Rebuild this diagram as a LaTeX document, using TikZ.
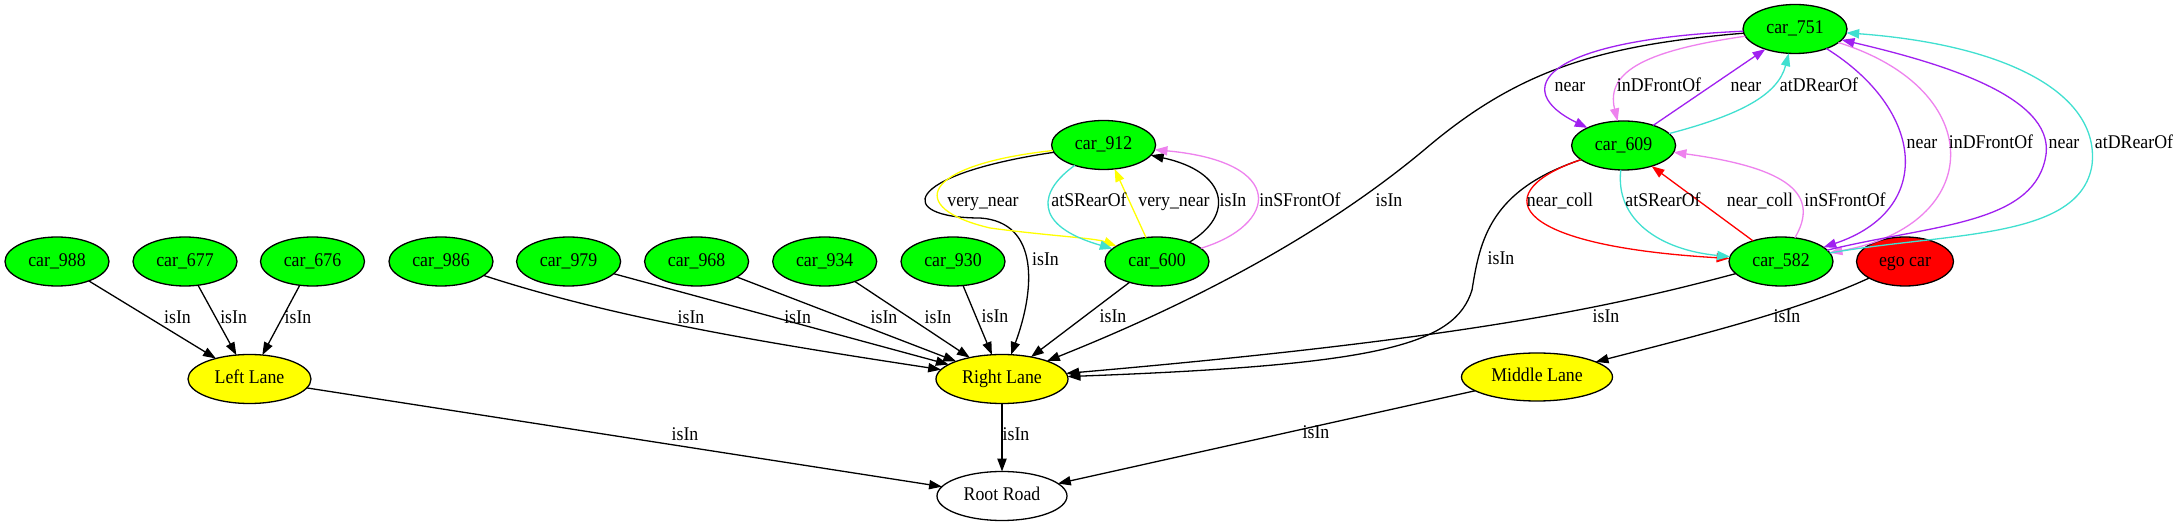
\documentclass[tikz,border=0pt]{standalone}
\usepackage{graphicx}
\usepackage{fontspec}
\setmainfont{Liberation Serif}
\usetikzlibrary{shapes.geometric,arrows.meta}
\definecolor{gvgreen}{RGB}{0,255,0}
\definecolor{gvyellow}{RGB}{255,255,0}
\definecolor{gvred}{RGB}{255,0,0}
\definecolor{gvpurple}{RGB}{160,32,240}
\definecolor{gvviolet}{RGB}{238,130,238}
\definecolor{gvturq}{RGB}{64,224,208}
\newcommand{\gvtx}[1]{\scalebox{1}[1.09]{#1}}
\begin{document}
\begin{tikzpicture}[x=0.5pt,y=-0.5pt,
  font=\fontsize{8.9pt}{10pt}\selectfont,
  nd/.style={ellipse,draw=black,line width=0.65pt,inner sep=0pt,outer sep=0pt,minimum height=24.5pt,text height=6.8pt,text depth=2pt},
  carnode/.style={nd,fill=gvgreen,minimum width=52pt},
  lane/.style={nd,fill=gvyellow},
  lbl/.style={inner sep=0pt,text height=6.8pt,text depth=2pt},
  conn/.style={line width=0.65pt,-{Triangle[length=6.4pt,width=4.6pt]}}]
\fill[white] (0,0) rectangle (2180,523);
\useasboundingbox (0,0) rectangle (2180,523);
% nodes
\node[carnode] (c988) at (57,261.5) {\gvtx{car\_988}};
\node[carnode] (c677) at (185,261.5) {\gvtx{car\_677}};
\node[carnode] (c676) at (312.5,261.5) {\gvtx{car\_676}};
\node[carnode] (c986) at (441,261.5) {\gvtx{car\_986}};
\node[carnode] (c979) at (568.6,261.5) {\gvtx{car\_979}};
\node[carnode] (c968) at (696.6,261.5) {\gvtx{car\_968}};
\node[carnode] (c934) at (824.7,261.5) {\gvtx{car\_934}};
\node[carnode] (c930) at (953,261.5) {\gvtx{car\_930}};
\node[carnode] (c912) at (1103.6,145) {\gvtx{car\_912}};
\node[carnode] (c600) at (1157,261.5) {\gvtx{car\_600}};
\node[carnode] (c751) at (1795,29) {\gvtx{car\_751}};
\node[carnode] (c609) at (1623.6,145.5) {\gvtx{car\_609}};
\node[carnode] (c582) at (1781,261.5) {\gvtx{car\_582}};
\node[nd,fill=gvred,minimum width=48.5pt] (ego) at (1905,261.5) {\gvtx{ego car}};
\node[lane,minimum width=61.5pt] (LL) at (249.5,379) {\gvtx{Left Lane}};
\node[lane,minimum width=66pt] (RL) at (1002,379) {\gvtx{Right Lane}};
\node[lane,minimum width=75.5pt,minimum height=24pt] (ML) at (1537,377) {\gvtx{Middle Lane}};
\node[nd,fill=white,minimum width=65pt] (RR) at (1002,496) {\gvtx{Root Road}};
% black isIn edges
\draw[conn] (c988) -- (LL);
\draw[conn] (c677) -- (LL);
\draw[conn] (c676) -- (LL);
\draw[conn] (c986) .. controls (620,320) and (780,345) .. (RL);
\draw[conn] (c979) -- (RL);
\draw[conn] (c968) -- (RL);
\draw[conn] (c934) -- (RL);
\draw[conn] (c930) -- (RL);
\draw[conn] (c912) .. controls (900,175) and (895,218) .. (980,218) .. controls (1040,222) and (1035,290) .. (RL);
\draw[conn] (c600) -- (RL);
\draw[conn] (c751) .. controls (1600,45) and (1520,70) .. (1430,145) .. controls (1330,230) and (1200,300) .. (RL);
\draw[conn] (c609) .. controls (1490,190) and (1480,240) .. (1472,290) .. controls (1455,345) and (1380,365) .. (RL);
\draw[conn] (c582) .. controls (1600,310) and (1450,340) .. (RL);
\draw[conn] (ego) .. controls (1800,310) and (1700,335) .. (ML);
\draw[conn] (LL) -- (RR);
\draw[conn] (RL) -- (RR);
\draw[conn] (ML) -- (RR);
% car_912 / car_600
\draw[conn,gvyellow] (c912) .. controls (920,165) and (905,208) .. (990,228) .. controls (1050,236) and (1095,238) .. (c600);
\draw[conn,gvturq] (c912) .. controls (1040,190) and (1030,225) .. (c600);
\draw[conn,gvyellow] (c600) -- (c912);
\draw[conn] (c600) .. controls (1235,215) and (1228,172) .. (c912);
\draw[conn,gvviolet] (c600) .. controls (1278,225) and (1288,162) .. (c912);
% car_751 / car_609 / car_582
\draw[conn,gvpurple] (c751) .. controls (1540,40) and (1510,90) .. (c609);
\draw[conn,gvviolet] (c751) .. controls (1650,50) and (1605,70) .. (c609);
\draw[conn,gvpurple] (c609) -- (c751);
\draw[conn,gvturq] (c609) .. controls (1740,115) and (1778,95) .. (c751);
\draw[conn,gvpurple] (c751) .. controls (1925,110) and (1935,210) .. (c582);
\draw[conn,gvviolet] (c751) .. controls (1990,90) and (1985,225) .. (c582);
\draw[conn,gvpurple] (c582) .. controls (1930,225) and (2030,225) .. (2045,160) .. controls (2060,100) and (1950,65) .. (c751);
\draw[conn,gvturq] (c582) .. controls (1950,232) and (2080,240) .. (2092,165) .. controls (2100,95) and (2010,45) .. (c751);
\draw[conn,gvred] (c609) .. controls (1490,190) and (1500,245) .. (c582);
\draw[conn,gvturq] (c609) .. controls (1615,220) and (1660,250) .. (c582);
\draw[conn,gvred] (c582) -- (c609);
\draw[conn,gvviolet] (c582) .. controls (1820,195) and (1790,168) .. (c609);
% labels
\node[lbl] (l1) at (177.5,319) {\gvtx{isIn}};
\node[lbl] (l2) at (233.6,319) {\gvtx{isIn}};
\node[lbl] (l3) at (298,319) {\gvtx{isIn}};
\node[lbl] (l4) at (691,319) {\gvtx{isIn}};
\node[lbl] (l5) at (797.6,319) {\gvtx{isIn}};
\node[lbl] (l6) at (884,319) {\gvtx{isIn}};
\node[lbl] (l7) at (938,319) {\gvtx{isIn}};
\node[lbl] (l8) at (995,318) {\gvtx{isIn}};
\node[lbl] (l9) at (1045.5,261) {\gvtx{isIn}};
\node[lbl] (l10) at (1113,318) {\gvtx{isIn}};
\node[lbl] (l11) at (1389,202) {\gvtx{isIn}};
\node[lbl] (l12) at (1501,260) {\gvtx{isIn}};
\node[lbl] (l13) at (1606,318) {\gvtx{isIn}};
\node[lbl] (l14) at (1787,318) {\gvtx{isIn}};
\node[lbl] (l15) at (685,436) {\gvtx{isIn}};
\node[lbl] (l16) at (1016,436) {\gvtx{isIn}};
\node[lbl] (l17) at (1316,434) {\gvtx{isIn}};
\node[lbl] (l18) at (983,202) {\gvtx{very\_near}};
\node[lbl] (l19) at (1089,202) {\gvtx{atSRearOf}};
\node[lbl] (l20) at (1174,202) {\gvtx{very\_near}};
\node[lbl] (l21) at (1233,202) {\gvtx{isIn}};
\node[lbl] (l22) at (1300,202) {\gvtx{inSFrontOf}};
\node[lbl] (l23) at (1570,87) {\gvtx{near}};
\node[lbl] (l24) at (1659,87) {\gvtx{inDFrontOf}};
\node[lbl] (l25) at (1746,87) {\gvtx{near}};
\node[lbl] (l26) at (1819,87) {\gvtx{atDRearOf}};
\node[lbl] (l27) at (1922,144) {\gvtx{near}};
\node[lbl] (l28) at (1991,144) {\gvtx{inDFrontOf}};
\node[lbl] (l29) at (2064,144) {\gvtx{near}};
\node[lbl] (l30) at (2134,144) {\gvtx{atDRearOf}};
\node[lbl] (l31) at (1560,202) {\gvtx{near\_coll}};
\node[lbl] (l32) at (1663,202) {\gvtx{atSRearOf}};
\node[lbl] (l33) at (1760,202) {\gvtx{near\_coll}};
\node[lbl] (l34) at (1845,202) {\gvtx{inSFrontOf}};
\end{tikzpicture}
\end{document}
